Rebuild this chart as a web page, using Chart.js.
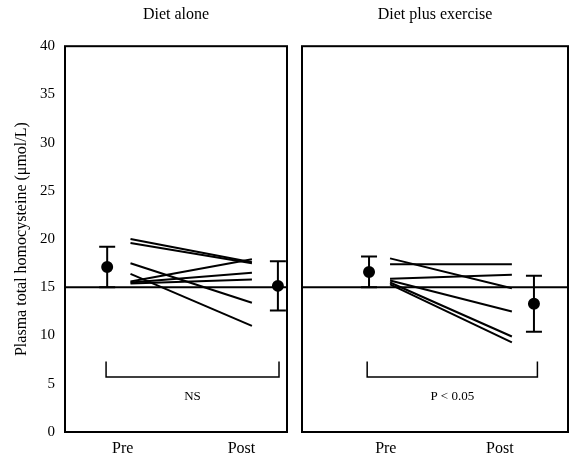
<!DOCTYPE html>
<html>
<head>
<meta charset="utf-8">
<title>Plasma total homocysteine</title>
<script src="https://cdn.jsdelivr.net/npm/chart.js@4.4.0/dist/chart.umd.min.js"></script>
<style>
  body { margin: 0; background: #fff; overflow: hidden; }
  #wrap { position: relative; width: 569px; height: 459px; overflow: hidden; }
  .panel { position: absolute; top: 0; height: 459px; }
</style>
</head>
<body>
<div id="wrap">
  <div class="panel" style="left:0;width:297px"><canvas id="dietChart"></canvas></div>
  <div class="panel" style="left:292px;width:286px"><canvas id="exerciseChart"></canvas></div>
</div>
<script>
const timeLabels = ["Pre", "Post"];
const yTicks = [0, 5, 10, 15, 20, 25, 30, 35, 40];
const refLevel = 15;

// Diet alone: one line per subject, pre -> post
const dietPre = [20.0, 19.6, 17.5, 16.4, 15.6, 15.5, 15.4];
const dietPost = [17.6, 17.5, 13.4, 11.0, 17.9, 16.5, 15.8];
const dietMean = [17.1, 15.15];
const dietErr = [2.1, 2.55];

// Diet plus exercise
const exPre = [18.0, 17.4, 15.9, 15.7, 15.5, 15.3];
const exPost = [14.9, 17.4, 16.3, 12.5, 9.9, 9.3];
const exMean = [16.6, 13.3];
const exErr = [1.6, 2.9];

const serif = '"Liberation Serif", "DejaVu Serif", serif';

// frame round the plot area and the significance note under the bracket
const panelFrame = {
  id: "panelFrame",
  afterDatasetsDraw(chart, args, opts) {
    const { ctx, chartArea: a, scales } = chart;
    ctx.save();
    ctx.strokeStyle = "#000";
    ctx.lineWidth = 2;
    ctx.strokeRect(a.left, a.top, a.right - a.left, a.bottom - a.top);
    ctx.fillStyle = "#000";
    ctx.font = "13px " + serif;
    ctx.textAlign = "center";
    ctx.textBaseline = "middle";
    ctx.fillText(opts.note, scales.x.getPixelForValue(opts.noteX), scales.y.getPixelForValue(3.7));
    ctx.restore();
  }
};

function line(data, extra) {
  return Object.assign({
    data: data,
    showLine: true,
    borderColor: "#000",
    borderWidth: 2,
    pointRadius: 0
  }, extra || {});
}

function buildPanel(canvasId, title, pre, post, mean, err, pos, note, showY) {
  const datasets = [];
  datasets.push(line([{ x: 0, y: refLevel }, { x: 10, y: refLevel }]));
  pre.forEach((v, i) => {
    datasets.push(line([{ x: pos.lineStart, y: v }, { x: pos.lineEnd, y: post[i] }]));
  });
  const meanX = [pos.preMean, pos.postMean];
  mean.forEach((m, i) => {
    datasets.push(line([{ x: meanX[i], y: m - err[i] }, { x: meanX[i], y: m + err[i] }], {
      pointStyle: "line", pointRadius: 8, pointBorderWidth: 2, pointBorderColor: "#000"
    }));
  });
  datasets.push(line(mean.map((m, i) => ({ x: meanX[i], y: m })), {
    showLine: false, pointStyle: "circle", pointRadius: 5,
    pointBackgroundColor: "#000", pointBorderColor: "#000"
  }));
  datasets.push(line([
    { x: pos.bracket[0], y: 7.3 }, { x: pos.bracket[0], y: 5.7 },
    { x: pos.bracket[1], y: 5.7 }, { x: pos.bracket[1], y: 7.3 }
  ], { borderWidth: 1.5 }));

  return new Chart(document.getElementById(canvasId), {
    type: "scatter",
    data: { datasets },
    plugins: [panelFrame],
    options: {
      responsive: true,
      maintainAspectRatio: false,
      animation: false,
      layout: { padding: 0 },
      plugins: {
        legend: { display: false },
        tooltip: { enabled: false },
        title: {
          display: true,
          text: title,
          fullSize: false,
          color: "#000",
          font: { family: serif, size: 16, weight: "normal" },
          padding: { top: 5, bottom: 22 }
        },
        panelFrame: { note: note, noteX: (pos.bracket[0] + pos.bracket[1]) / 2 }
      },
      scales: {
        x: {
          type: "linear",
          min: 0,
          max: 10,
          grid: { display: false, drawTicks: false },
          border: { display: false },
          afterBuildTicks: s => { s.ticks = [{ value: pos.preTick }, { value: pos.postTick }]; },
          afterFit: s => { s.height = 27; },
          ticks: {
            color: "#000",
            padding: 7,
            font: { family: serif, size: 16 },
            callback: (v, i) => timeLabels[i]
          }
        },
        y: {
          display: showY,
          min: 0,
          max: 40,
          grid: { display: false, drawTicks: false },
          border: { display: false },
          afterBuildTicks: s => { s.ticks = yTicks.map(v => ({ value: v })); },
          afterFit: s => { s.width = showY ? 65 : 0; },
          ticks: { color: "#000", padding: 10, font: { family: serif, size: 15 } },
          title: {
            display: true,
            text: "Plasma total homocysteine (μmol/L)",
            color: "#000",
            font: { family: serif, size: 16 },
            padding: { top: 12, bottom: 0 }
          }
        }
      }
    }
  });
}

buildPanel("dietChart", "Diet alone", dietPre, dietPost, dietMean, dietErr,
  { preMean: 1.9, lineStart: 2.95, lineEnd: 8.42, postMean: 9.59, preTick: 2.6, postTick: 7.95, bracket: [1.85, 9.64] },
  "NS", true);

buildPanel("exerciseChart", "Diet plus exercise", exPre, exPost, exMean, exErr,
  { preMean: 2.52, lineStart: 3.31, lineEnd: 7.89, postMean: 8.72, preTick: 3.15, postTick: 7.44, bracket: [2.45, 8.85] },
  "P < 0.05", false);
</script>
</body>
</html>
